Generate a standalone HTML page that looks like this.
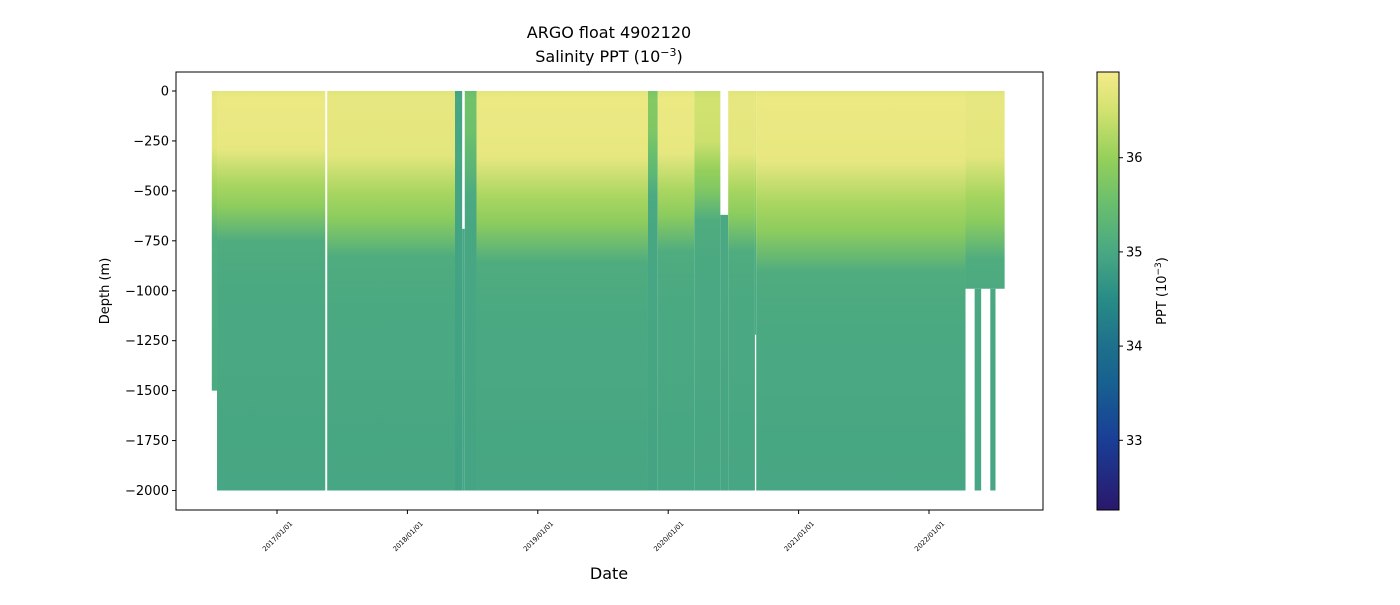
<!DOCTYPE html>
<html><head><meta charset="utf-8">
<style>
body{margin:0;background:#fff;font-family:"Liberation Sans","DejaVu Sans",sans-serif;}
svg text{font-family:"DejaVu Sans","Liberation Sans",sans-serif;}
</style></head>
<body>
<svg id="chart" width="1400" height="600" xmlns="http://www.w3.org/2000/svg">
<defs id="defs"></defs>
<text x="609" y="38" font-size="16" text-anchor="middle">ARGO float 4902120</text>
<text x="609" y="62" font-size="16" text-anchor="middle">Salinity PPT (10<tspan baseline-shift="super" font-size="11">−3</tspan>)</text>
<g id="plot"></g>
<rect x="176" y="72" width="867" height="438" fill="none" stroke="#000" stroke-width="1"/>
<g id="yaxis"></g>
<g id="xaxis"></g>
<text transform="translate(109,291) rotate(-90)" font-size="13" text-anchor="middle">Depth (m)</text>
<text x="609" y="579" font-size="16" text-anchor="middle">Date</text>
<g id="cbar"></g>
<text transform="translate(1166,291) rotate(-90)" font-size="13" text-anchor="middle">PPT (10<tspan baseline-shift="super" font-size="9">−3</tspan>)</text>
</svg>
<script>
// data
const segStart = [2016.50,2016.54,2017.385,2018.365,2018.42,2018.44,2018.53,2019.845,2019.92,2020.20,2020.40,2020.46,2020.665,2020.675,2022.28,2022.35,2022.47];
const segEnd   = [2016.54,2017.37,2018.365,2018.42,2018.44,2018.53,2019.845,2019.92,2020.20,2020.40,2020.46,2020.665,2020.675,2022.28,2022.58,2022.40,2022.51];
const segTop   = [0,0,0,0,690,0,0,0,0,0,620,0,0,0,0,990,990];
const segDepth = [1500,2000,2000,2000,2000,2000,2000,2000,2000,2000,2000,2000,1220,2000,990,2000,2000];
const segSurf  = [36.75,36.8,36.75,35.0,34.95,35.6,36.8,35.8,36.8,36.5,35.0,36.75,36.7,36.8,36.75,35.0,35.0];
const segMix   = [560,580,640,250,250,400,660,400,620,500,250,620,600,700,650,250,250];
const segDeep  = [35.05,35.0,35.0,34.9,34.95,34.95,35.0,34.95,35.0,35.0,35.0,35.0,35.0,35.0,35.0,35.0,35.0];
const cbTicks = [33,34,35,36];
const yTicks = [0,-250,-500,-750,-1000,-1250,-1500,-1750,-2000];
const xTickYears = [2017,2018,2019,2020,2021,2022];
const xTickLabels = ["2017/01/01","2018/01/01","2019/01/01","2020/01/01","2021/01/01","2022/01/01"];

const X0=176,X1=1043,Y0=72,Y1=510;
const xs = y => 277 + (y-2017)*130.4;
function yd(depth){return 91 + depth*0.19975;}
const cbMin=32.26,cbMax=36.91;
const stops=[[32.26,[42,24,108]],[33,[26,62,150]],[33.6,[23,96,145]],[34,[30,112,140]],[34.5,[40,140,134]],[35,[73,168,131]],[35.5,[104,190,110]],[36,[150,208,90]],[36.5,[210,226,112]],[36.91,[245,235,138]]];
function cmap(v){
  v=Math.max(cbMin,Math.min(cbMax,v));
  for(let i=1;i<stops.length;i++){ if(v<=stops[i][0]){const a=stops[i-1],b=stops[i];const t=(v-a[0])/(b[0]-a[0]);
    return 'rgb('+a[1].map((c,k)=>Math.round(c+(b[1][k]-c)*t)).join(',')+')';}}
  return 'rgb(245,235,138)';
}
const NS='http://www.w3.org/2000/svg';
const defs=document.getElementById('defs'),plot=document.getElementById('plot');
function mk(tag,attrs,parent){const e=document.createElementNS(NS,tag);for(const k in attrs)e.setAttribute(k,attrs[k]);parent.appendChild(e);return e;}
function grad(id,top,bot,pairs){const g=mk('linearGradient',{id:id,x1:0,y1:yd(top),x2:0,y2:yd(bot),gradientUnits:'userSpaceOnUse'},defs);
  pairs.forEach(p=>mk('stop',{offset:Math.max(0,Math.min(1,p[0])),'stop-color':p[1]},g));}
segStart.forEach((s,i)=>{
  const top=segTop[i], h=segDepth[i], m=segMix[i], surf=segSurf[i], deep=segDeep[i];
  // gradient defined over full 0..2000 column
  const H=2000;
  grad('g'+i,0,H,[[0,cmap(surf-0.1)],[0.02,cmap(surf)],[m*0.5/H,cmap(surf-0.05)],[m*0.8/H,cmap(surf-0.35*(surf-deep))],[m/H,cmap((surf+deep)/2)],[m*1.3/H,cmap(deep+0.1)],[m*1.7/H,cmap(deep+0.03)],[1,cmap(deep-0.03)]]);
  const r=mk('rect',{x:xs(s),y:yd(top),width:Math.max(1,xs(segEnd[i])-xs(s)),height:yd(h)-yd(top),fill:'url(#g'+i+')'},plot);
  
  
});
// y axis
const ya=document.getElementById('yaxis');
yTicks.forEach(t=>{const y=yd(-t);
  mk('line',{x1:X0-4,x2:X0,y1:y,y2:y,stroke:'#000'},ya);
  const tx=mk('text',{x:X0-7,y:y+4.5,'font-size':13,'text-anchor':'end'},ya);
  tx.textContent=String(t).replace('-','−');
  
  
});
const xa=document.getElementById('xaxis');
xTickYears.forEach((yr,i)=>{const x=xs(yr);
  mk('line',{x1:x,x2:x,y1:Y1,y2:Y1+4,stroke:'#000'},xa);
  const tx=mk('text',{x:0,y:0,'font-size':6.8,'text-anchor':'end',transform:'translate('+(x+16)+','+(Y1+14)+') rotate(-45)'},xa);
  tx.textContent=xTickLabels[i];
  
  
});
// colorbar
const cb=document.getElementById('cbar');
const CX=1097,CW=22;
const cg=mk('linearGradient',{id:'cbg',x1:0,y1:1,x2:0,y2:0},defs);
stops.forEach(s=>mk('stop',{offset:(s[0]-cbMin)/(cbMax-cbMin),'stop-color':'rgb('+s[1].join(',')+')'},cg));
mk('rect',{x:CX,y:Y0,width:CW,height:Y1-Y0,fill:'url(#cbg)',stroke:'#000','stroke-width':1},cb);
cbTicks.forEach(t=>{const y=Y1-(t-cbMin)/(cbMax-cbMin)*(Y1-Y0);
  mk('line',{x1:CX+CW,x2:CX+CW+4,y1:y,y2:y,stroke:'#000'},cb);
  const tx=mk('text',{x:CX+CW+7,y:y+4.5,'font-size':13},cb);
  tx.textContent=t;
  
  
});
</script>
</body></html>
